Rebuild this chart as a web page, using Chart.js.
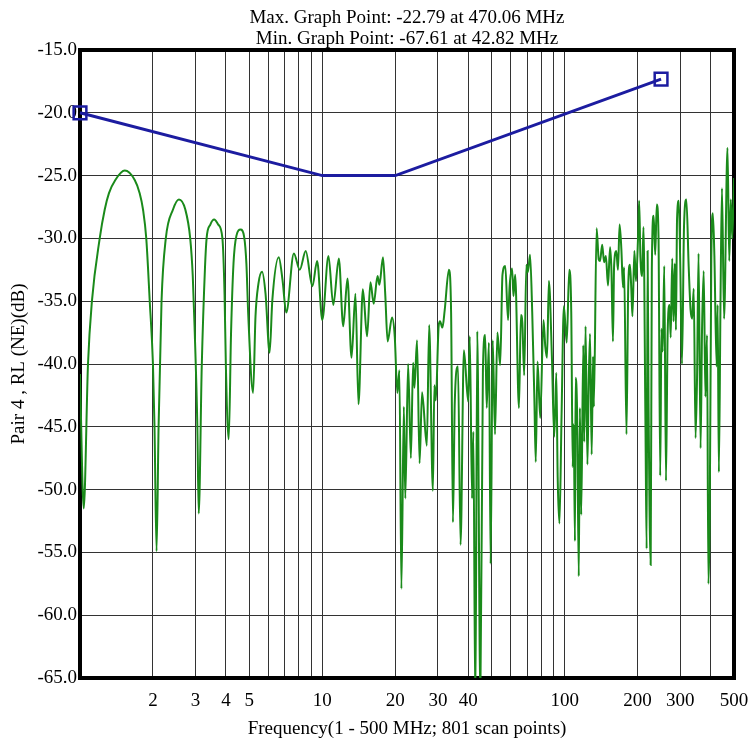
<!DOCTYPE html>
<html>
<head>
<meta charset="utf-8">
<script src="https://cdn.jsdelivr.net/npm/chart.js@4.4.1/dist/chart.umd.min.js"></script>
<style>
  body { margin: 0; background: #fff; }
  #wrap { width: 749px; height: 740px; }
</style>
</head>
<body>
<div id="wrap"><canvas id="grafica" width="749" height="740"></canvas></div>
<script>
// titulos
const tituloLineas = [
  'Max. Graph Point: -22.79 at 470.06 MHz',
  'Min. Graph Point: -67.61 at 42.82 MHz'
];
const tituloX = 'Frequency(1 - 500 MHz; 801 scan points)';
const tituloY = 'Pair 4 , RL (NE)(dB)';

// eje x (MHz): lineas de rejilla y etiquetas
const rejillaX = [1, 2, 3, 4, 5, 6, 7, 8, 9, 10, 20, 30, 40, 50, 60, 70, 80, 90, 100, 200, 300, 400, 500];
const etiquetasX = [2, 3, 4, 5, 10, 20, 30, 40, 100, 200, 300, 500];

// limite (azul)
const limiteFreq = [1, 10, 20, 250];
const limiteRL = [-20, -25, -25, -17.32];

// medicion (verde)
const medFreq = [
  1.00, 1.036, 1.079, 1.12, 1.206, 1.265, 1.317, 1.399, 1.53, 1.682,
  1.763, 1.82, 1.877, 1.94, 2.00, 2.03, 2.07, 2.11, 2.17, 2.26,
  2.42, 2.56, 2.72, 2.85, 2.92, 2.97, 3.05, 3.09, 3.18, 3.28,
  3.33, 3.45, 3.58, 3.72, 3.87, 3.95, 4.00, 4.11, 4.20, 4.30,
  4.42, 4.60, 4.76, 4.86, 4.95, 5.18, 5.30, 5.45, 5.64,
  5.83, 6.06, 6.22, 6.61, 6.85, 7.10, 7.63, 8.07, 8.54, 9.10,
  9.52, 10.0, 10.6, 11.1, 11.7, 12.2, 12.7, 13.2, 13.7, 14.1,
  14.7, 15.3, 15.8, 16.3, 16.9, 17.2, 17.8, 18.2, 18.6, 19.4,
  19.9, 20.4, 20.8, 21.2, 21.7, 22.0, 22.6, 23.2, 23.7, 24.0,
  24.6, 25.2, 25.8, 27.0, 27.6, 28.6, 29.0, 29.4, 30.2, 30.6,
  31.3, 32.0, 33.3, 34.0, 34.6, 35.2, 36.3, 37.2, 38.4, 40.0,
  40.6, 41.5, 42.0, 42.82, 43.6, 44.9, 46.0, 47.0, 47.7, 48.7,
  49.5, 50.5, 51.6, 52.8, 54.2, 55.4, 56.9, 58.4, 59.3, 60.7,
  61.5, 62.5, 64.8, 66.0, 66.9, 68.1, 69.5, 70.5, 72.0, 73.5,
  75.0, 76.0, 77.3, 79.3, 81.8, 83.2, 84.6, 86.1, 88.6, 90.6,
  92.4, 93.6, 95.2, 97.1, 99.3, 102, 104.5, 106.5, 108, 109,
  110.3, 111, 112.6, 114.4, 115.6, 117.1, 119.4, 120.5, 122, 124.2,
  125.6, 127.3, 129.3, 131, 132, 135.5, 138.3, 140, 142.9, 145.5,
  148, 151, 154, 156, 158.3, 160, 163.4, 166, 168.6, 171.5,
  174.2, 176, 180, 183, 186, 188.5, 190.5, 194, 197, 201,
  203, 205.5, 209, 211.5, 215.6, 218, 220, 222, 226.5, 229,
  233, 236.5, 240, 244, 248, 251, 254, 257.7, 262, 266,
  271, 274, 278, 281.5, 285, 288, 291, 296, 300, 305,
  311, 318, 325, 331, 336, 341, 347, 352, 357, 364,
  369, 375, 381, 387, 392, 397, 403, 409, 415, 424,
  428, 433, 440, 446, 455, 470.06, 478, 485, 492, 500
];
const medRL = [
  -40.8, -51.5, -40.0, -35.0, -30.0, -27.7, -26.4, -25.35, -24.6, -25.35,
  -26.4, -27.7, -30.0, -35.0, -40.0, -45.0, -54.9, -45.0, -35.0, -30.0,
  -27.7, -26.9, -27.7, -30.0, -33.0, -37.0, -45.0, -51.9, -40.2, -32.3,
  -30.0, -28.9, -28.5, -28.9, -30.0, -34.5, -40.2, -46.0, -37.6, -32.0,
  -29.8, -29.3, -29.9, -32.0, -36.2, -42.3, -36.2, -33.6, -32.65,
  -34.4, -39.1, -34.9, -31.5, -33.3, -35.9, -31.2, -32.5, -31.0, -33.8,
  -31.8, -36.5, -31.4, -35.3, -31.6, -37.0, -33.2, -39.5, -34.4, -43.2,
  -34.05, -37.8, -33.5, -35.2, -33.0, -33.7, -31.5, -34.6, -38.2, -36.3,
  -37.8, -42.3, -40.5, -57.9, -43.4, -50.7, -40.0, -47.5, -39.9, -41.9,
  -38.1, -47.9, -42.25, -46.5, -36.9, -50.1, -41.7, -42.9, -37.0, -36.6,
  -37.1, -35.7, -32.5, -35.9, -52.6, -43.1, -40.2, -54.4, -38.9, -43.0,
  -37.8, -50.7, -45.4, -67.61, -37.4, -66.5, -40.5, -37.7, -43.5, -38.3,
  -55.9, -38.1, -45.6, -37.5, -40.1, -32.9, -32.2, -36.5, -33.8, -32.4,
  -34.6, -32.9, -43.5, -36.1, -36.7, -40.9, -32.1, -32.7, -31.3, -35.9,
  -42.7, -47.8, -39.8, -44.3, -36.5, -38.6, -39.5, -33.4, -39.4, -45.8,
  -40.7, -49.0, -52.7, -44.2, -35.4, -38.3, -32.5, -35.9, -48.2, -44.8,
  -54.1, -41.1, -43.9, -56.9, -43.5, -52.0, -38.5, -46.2, -37.0, -48.0,
  -42.0, -37.6, -47.2, -39.4, -43.4, -29.2, -31.7, -31.8, -30.5, -31.9,
  -31.4, -33.75, -30.7, -32.5, -38.2, -32.2, -31.0, -32.5, -28.9, -30.9,
  -33.9, -32.3, -45.6, -33.9, -32.1, -34.1, -36.2, -31.0, -33.4, -29.8,
  -27.0, -31.5, -33.0, -29.1, -45.0, -54.7, -31.0, -43.1, -56.0, -32.5,
  -28.2, -31.3, -27.3, -29.8, -48.9, -37.2, -39.0, -32.2, -49.3, -37.8,
  -35.3, -37.9, -31.6, -36.6, -32.0, -37.3, -28.5, -27.0, -32.0, -40.0,
  -29.0, -26.9, -32.2, -35.7, -36.4, -34.0, -45.9, -41.0, -31.2, -46.7,
  -37.3, -32.6, -42.6, -37.7, -57.5, -52.2, -31.7, -28.0, -31.4, -40.2,
  -35.3, -48.6, -34.6, -26.0, -36.4, -22.79, -31.8, -26.9, -30.0, -25.2
];

const fuente = "'Liberation Serif', 'Times New Roman', serif";

// marco negro grueso alrededor del area de datos
const marco = {
  id: 'marco',
  beforeDatasetsDraw(chart) {
    const {ctx, chartArea: a} = chart;
    ctx.save();
    ctx.strokeStyle = '#000';
    ctx.lineWidth = 4;
    ctx.strokeRect(a.left, a.top, a.right - a.left, a.bottom - a.top);
    ctx.restore();
  }
};

const aPuntos = (xs, ys) => xs.map((x, i) => ({x: x, y: ys[i]}));

new Chart(document.getElementById('grafica'), {
  type: 'line',
  data: {
    datasets: [{
      label: 'medicion',
      data: aPuntos(medFreq, medRL),
      borderColor: '#1a8a1a',
      borderWidth: 2,
      pointRadius: 0,
      cubicInterpolationMode: 'monotone',
      fill: false
    }, {
      label: 'limite',
      data: aPuntos(limiteFreq, limiteRL),
      borderColor: '#1c1ca0',
      borderWidth: 3,
      pointStyle: 'rect',
      pointRadius: limiteFreq.map((f, i) => (i === 0 || i === limiteFreq.length - 1) ? 9 : 0),
      pointBorderWidth: 2.5,
      pointBackgroundColor: 'rgba(255,255,255,0)',
      pointBorderColor: '#1c1ca0',
      clip: false,
      fill: false
    }]
  },
  options: {
    responsive: false,
    animation: false,
    layout: { padding: { left: 8, right: 15, top: 0, bottom: 0 } },
    plugins: {
      legend: { display: false },
      tooltip: { enabled: false },
      title: {
        display: true,
        text: tituloLineas,
        fullSize: false,
        color: '#000',
        font: { family: fuente, size: 19, weight: 'normal', lineHeight: '21px' },
        padding: { top: 8, bottom: 0 }
      }
    },
    scales: {
      x: {
        type: 'logarithmic',
        min: 1,
        max: 500,
        afterBuildTicks: (scale) => { scale.ticks = rejillaX.map(v => ({value: v})); },
        afterFit: (scale) => {
          scale.height = 62;
          scale.paddingLeft = 0;
          scale.paddingRight = 0;
        },
        grid: { color: '#333', lineWidth: 1, drawTicks: false },
        border: { display: false },
        ticks: {
          autoSkip: false,
          maxRotation: 0,
          padding: 12,
          color: '#000',
          font: { family: fuente, size: 19 },
          callback: (v) => etiquetasX.includes(v) ? String(v) : ''
        },
        title: {
          display: true,
          text: tituloX,
          color: '#000',
          font: { family: fuente, size: 19 },
          padding: 0
        }
      },
      y: {
        type: 'linear',
        min: -65,
        max: -15,
        afterFit: (scale) => { scale.width = 72; },
        grid: { color: '#333', lineWidth: 1, drawTicks: false },
        border: { display: false },
        ticks: {
          stepSize: 5,
          padding: 3,
          color: '#000',
          font: { family: fuente, size: 19 },
          callback: (v) => v.toFixed(1)
        },
        title: {
          display: true,
          text: tituloY,
          color: '#000',
          font: { family: fuente, size: 19 },
          padding: 0
        }
      }
    }
  },
  plugins: [marco]
});
</script>
</body>
</html>
